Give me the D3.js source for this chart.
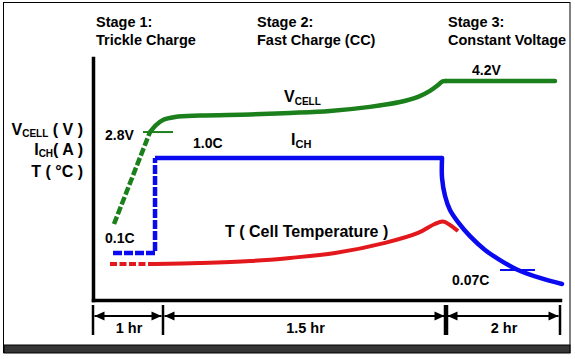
<!DOCTYPE html>
<html>
<head>
<meta charset="utf-8">
<script src="https://cdn.jsdelivr.net/npm/d3@7"></script>
<style>
  html, body { margin: 0; padding: 0; background: #fff; }
  svg { display: block; }
  text { font-family: "Liberation Sans", Arial, sans-serif; font-weight: bold; fill: #000; }
</style>
</head>
<body>
<svg id="chart" width="575" height="359"></svg>
<script>
// ---------- DATA (time in hours, level in % of plot height) ----------
const stageBounds = [0, 1, 2.5, 4.5];
const stageDurations = ["1 hr", "1.5 hr", "2 hr"];
const stageTitles = ["Stage 1:", "Stage 2:", "Stage 3:"];
const stageNames = ["Trickle Charge", "Fast Charge (CC)", "Constant Voltage"];

// Cell voltage
const vcellTrickle = [[0.30, 31.4], [0.814, 69.4]];
const vcellRise = [[0.814, 69.4], [0.90, 72.3], [1.0, 74.4], [1.064, 75.6], [1.196, 76.2],
  [1.461, 76.7], [1.673, 77.3], [1.885, 78.1], [2.097, 79.8], [2.256, 81.8],
  [2.352, 83.9], [2.415, 86.4], [2.458, 88.8], [2.480, 90.3], [2.50, 90.5]];
const vcellFlat = [[2.50, 90.5], [4.412, 90.5]];
const vcellMarker = [[0.714, 69.4], [1.053, 69.4]];   // 2.8V

// Charge current
const ichTrickle = [[0.286, 19.4], [0.886, 19.4], [0.886, 58.7]];
const ichConst = [[0.886, 58.7], [2.479, 58.7]];
const ichTaper = [[2.479, 58.7], [2.479, 50.4], [2.495, 43.0], [2.570, 37.2], [2.711, 32.2],
  [2.921, 26.4], [3.184, 20.7], [3.447, 16.5], [3.763, 12.4], [4.149, 9.1], [4.535, 6.6]];
const ichMarker = [[3.447, 12.4], [4.061, 12.4]];     // 0.07C

// Cell temperature
const tempTrickle = [[0.243, 14.9], [0.886, 14.9]];
const tempMain = [[0.886, 14.9], [1.196, 15.3], [1.461, 16.1], [1.673, 17.4], [1.912, 19.4],
  [2.177, 23.6], [2.352, 27.7], [2.440, 31.4], [2.484, 32.4], [2.570, 31.0], [2.711, 28.5]];

// ---------- DRAW ----------
const svg = d3.select("#chart");
const GREEN = "#1b7f1b", BLUE = "#0a0af0", RED = "#e3181c";

// frame
svg.append("rect").attr("x", 3.5).attr("y", 2.5).attr("width", 566.5).attr("height", 350)
  .attr("fill", "#fff").attr("stroke", "#000").attr("stroke-width", 1);
svg.append("rect").attr("x", 4).attr("y", 345).attr("width", 566).attr("height", 8)
  .attr("fill", "#353535").attr("stroke", "#000").attr("stroke-width", 1);

const x = d3.scaleLinear().domain(stageBounds).range([93, 163, 446, 560]);
const y = d3.scaleLinear().domain([0, 100]).range([300, 58]);

// axes (no ticks)
const yAxis = svg.append("g").attr("transform", "translate(93,0)")
  .call(d3.axisLeft(y).tickValues([]).tickSizeOuter(0));
const xAxis = svg.append("g").attr("transform", "translate(0,300)")
  .call(d3.axisBottom(x).tickValues([]).tickSizeOuter(0));
[yAxis, xAxis].forEach(g => g.select(".domain")
  .attr("stroke", "#000").attr("stroke-width", 3.5).attr("stroke-linecap", "square"));

const linear = d3.line().x(d => x(d[0])).y(d => y(d[1]));
const smooth = d3.line().x(d => x(d[0])).y(d => y(d[1])).curve(d3.curveCatmullRom.alpha(0.5));

function path(data, gen, color, width, dash, cap) {
  svg.append("path").datum(data).attr("d", gen)
    .attr("fill", "none").attr("stroke", color).attr("stroke-width", width)
    .attr("stroke-dasharray", dash || null)
    .attr("stroke-linecap", cap || "butt").attr("stroke-linejoin", "round");
}

// temperature
path(tempTrickle, linear, RED, 4, "7,2.5");
path(tempMain, smooth, RED, 4, null, "butt");
// current
path(ichTrickle, linear, BLUE, 4.5, "9,2");
path(ichConst, linear, BLUE, 4.5, null, "butt");
path(ichTaper, smooth, BLUE, 4.5, null, "round");
path(ichMarker, linear, BLUE, 2);
// voltage
path(vcellTrickle, linear, GREEN, 4.5, "8,2.5");
path(vcellRise, smooth, GREEN, 4.5, null, "round");
path(vcellFlat, linear, GREEN, 4.5, null, "round");
path(vcellMarker, linear, GREEN, 2);

// dimension lines
const dimY = 316;
stageBounds.forEach((b, i) => {
  svg.append("line").attr("x1", x(b)).attr("x2", x(b)).attr("y1", 305).attr("y2", 335)
    .attr("stroke", "#000").attr("stroke-width", i === 2 ? 4.5 : 2.5);
});
for (let i = 0; i < stageDurations.length; i++) {
  const a = x(stageBounds[i]) + 1.5, b = x(stageBounds[i + 1]) - 1.5;
  svg.append("line").attr("x1", a).attr("x2", b).attr("y1", dimY).attr("y2", dimY)
    .attr("stroke", "#000").attr("stroke-width", 2);
  svg.append("path").attr("d", `M${a},${dimY}L${a + 10},${dimY - 4.5}L${a + 10},${dimY + 4.5}Z`).attr("fill", "#000");
  svg.append("path").attr("d", `M${b},${dimY}L${b - 10},${dimY - 4.5}L${b - 10},${dimY + 4.5}Z`).attr("fill", "#000");
  svg.append("text").attr("x", (a + b) / 2 + 1).attr("y", 333).attr("text-anchor", "middle")
    .style("font-size", "14.5px").text(stageDurations[i]);
}

// stage headings
const stageLabelX = [96, 257, 448];
stageTitles.forEach((t, i) => {
  svg.append("text").attr("x", stageLabelX[i]).attr("y", 27).style("font-size", "14.5px").text(t);
  svg.append("text").attr("x", stageLabelX[i]).attr("y", 45).style("font-size", "14.5px").text(stageNames[i]);
});

// left axis label
function subLabel(xp, yp, main, sub, rest, anchor, size, subSize, subDy) {
  const t = svg.append("text").attr("x", xp).attr("y", yp).attr("text-anchor", anchor)
    .style("font-size", size + "px");
  t.append("tspan").text(main);
  t.append("tspan").attr("dy", subDy).style("font-size", subSize + "px").text(sub);
  t.append("tspan").attr("dy", -subDy).text(rest);
  return t;
}
subLabel(83, 135, "V", "CELL", " ( V )", "end", 16, 10, 2);
subLabel(83, 155, "I", "CH", "( A )", "end", 16, 10, 2);
svg.append("text").attr("x", 83).attr("y", 177).attr("text-anchor", "end")
  .style("font-size", "16px").text("T ( °C )");

// curve labels
subLabel(284, 102, "V", "CELL", "", "start", 16, 10, 3);
subLabel(291, 145, "I", "CH", "", "start", 16, 11, 3);
svg.append("text").attr("x", 225).attr("y", 237).style("font-size", "16px").text("T ( Cell Temperature )");

// value annotations
const notes = [["2.8V", 105, 140], ["1.0C", 193, 148], ["0.1C", 105, 243], ["4.2V", 472, 75], ["0.07C", 452, 285]];
notes.forEach(n => svg.append("text").attr("x", n[1]).attr("y", n[2]).style("font-size", "14px").text(n[0]));
</script>
</body>
</html>
